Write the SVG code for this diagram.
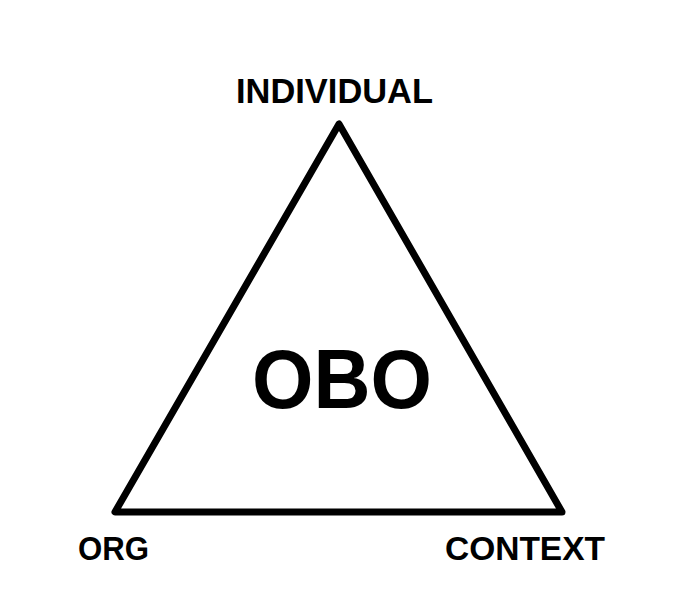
<svg xmlns="http://www.w3.org/2000/svg" width="682" height="616" viewBox="0 0 682 616">
<style>
.lbl{font-family:"Liberation Sans",Arial,sans-serif;font-weight:bold;fill:#000;}
.edge{fill:none;stroke:#000;stroke-width:7;stroke-linejoin:round;stroke-linecap:round;}
</style>
<rect width="682" height="616" fill="#ffffff"/>
<g id="connectors">
<polygon class="edge" points="339,124 115,512 562,512"/>
</g>
<g id="individual"><text class="lbl" x="334.5" y="103" font-size="35" text-anchor="middle" textLength="197" lengthAdjust="spacingAndGlyphs">INDIVIDUAL</text></g>
<g id="org"><text class="lbl" x="78" y="560" font-size="34" textLength="71" lengthAdjust="spacingAndGlyphs">ORG</text></g>
<g id="context"><text class="lbl" x="445" y="560" font-size="34" textLength="160" lengthAdjust="spacingAndGlyphs">CONTEXT</text></g>
<g id="obo"><text class="lbl" x="252" y="408" font-size="84" textLength="180" lengthAdjust="spacingAndGlyphs">OBO</text></g>
</svg>
